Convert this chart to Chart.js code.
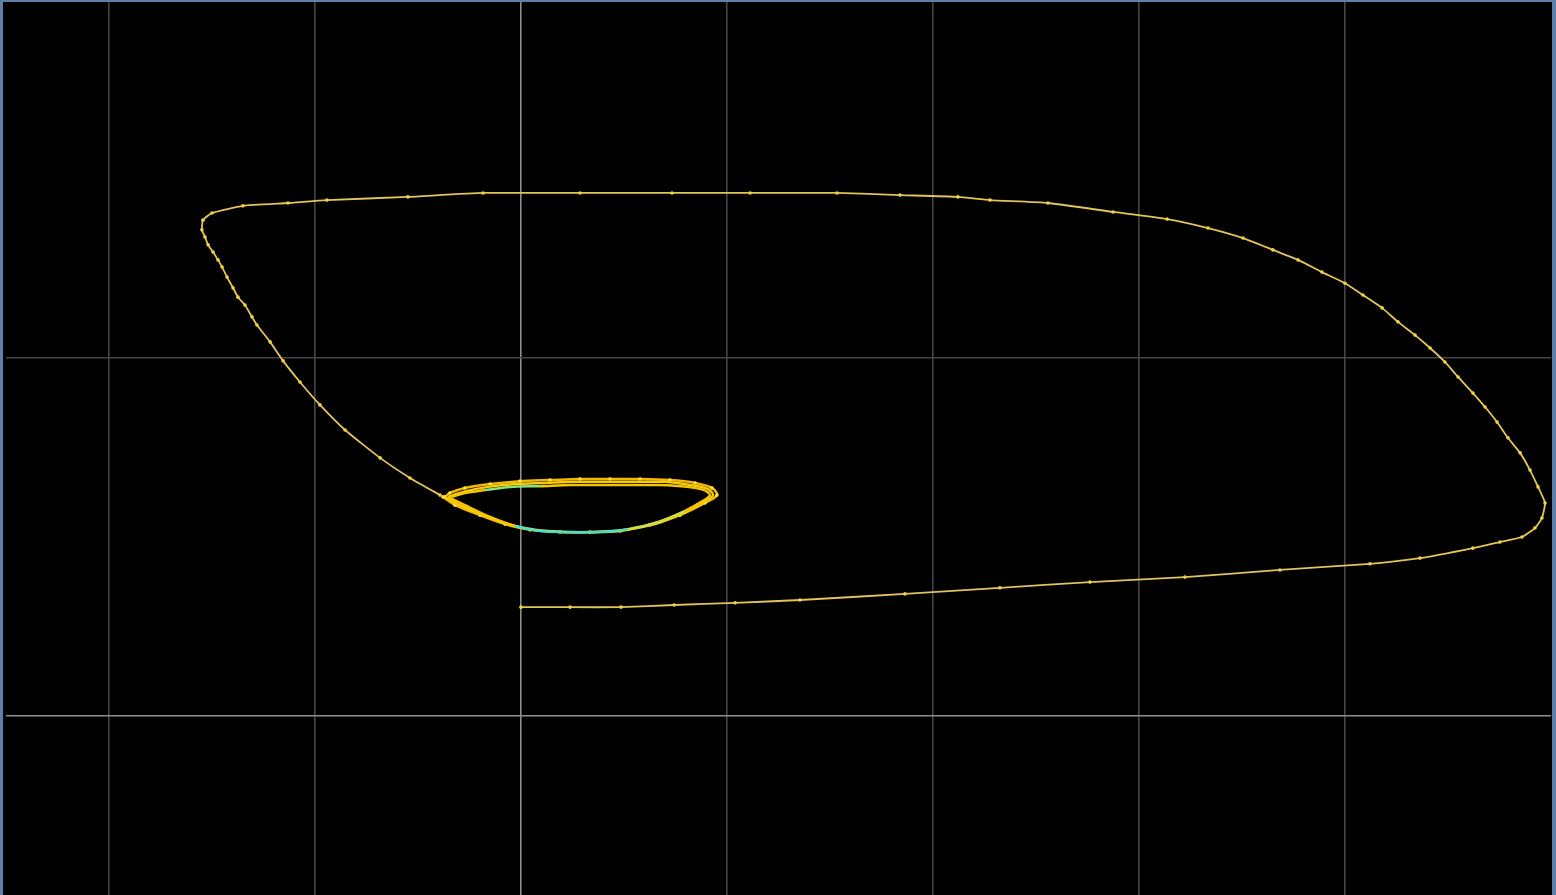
<!DOCTYPE html>
<html>
<head>
<meta charset="utf-8">
<script src="https://cdn.jsdelivr.net/npm/chart.js@4/dist/chart.umd.min.js"></script>
<style>
  html, body { margin: 0; padding: 0; background: #000; }
  #wrap { width: 1556px; height: 895px; }
</style>
</head>
<body>
<div id="wrap"><canvas id="phase" width="1556" height="895"></canvas></div>
<script>
// Phase-plane trajectory: transient orbit settling onto a small limit cycle.
const xTicks = [-2, -1, 0, 1, 2, 3, 4];
const yTicks = [0, 1];

// transient trajectory (x, y) samples
const trajX = [0, 0.238, 0.485, 0.743, 1.039, 1.354, 1.864, 2.325, 2.762, 3.223, 3.684, 4.121, 4.364, 4.621, 4.752, 4.859, 4.922, 4.956, 4.971, 4.937, 4.898, 4.850, 4.791, 4.738, 4.680, 4.621, 4.549, 4.485, 4.413, 4.340, 4.257, 4.180, 4.087, 4.000, 3.888, 3.772, 3.650, 3.505, 3.335, 3.136, 2.874, 2.558, 2.277, 2.121, 1.840, 1.534, 1.112, 0.733, 0.286, -0.184, -0.549, -0.942, -1.131, -1.350, -1.500, -1.544, -1.549, -1.534, -1.519, -1.495, -1.471, -1.451, -1.427, -1.398, -1.374, -1.340, -1.306, -1.282, -1.218, -1.155, -1.073, -0.976, -0.854, -0.684, -0.539, -0.393];
const trajY = [0.304, 0.304, 0.304, 0.310, 0.316, 0.324, 0.341, 0.358, 0.374, 0.388, 0.408, 0.425, 0.441, 0.469, 0.486, 0.500, 0.525, 0.553, 0.595, 0.640, 0.687, 0.735, 0.777, 0.821, 0.863, 0.902, 0.947, 0.989, 1.028, 1.064, 1.101, 1.140, 1.176, 1.209, 1.240, 1.274, 1.302, 1.335, 1.363, 1.388, 1.408, 1.433, 1.441, 1.450, 1.455, 1.461, 1.461, 1.461, 1.461, 1.461, 1.450, 1.441, 1.433, 1.425, 1.405, 1.385, 1.358, 1.338, 1.316, 1.296, 1.274, 1.254, 1.226, 1.196, 1.170, 1.148, 1.115, 1.092, 1.045, 0.992, 0.933, 0.869, 0.799, 0.721, 0.665, 0.617];

// successive turns around the limit cycle
const loop1X = [-0.379, -0.320, -0.199, -0.078, 0.044, 0.189, 0.335, 0.481, 0.626, 0.772, 0.893, 0.951, 0.927, 0.845, 0.723, 0.578, 0.432, 0.286, 0.141, -0.005, -0.150, -0.272, -0.345, -0.369];
const loop1Y = [0.612, 0.589, 0.561, 0.536, 0.520, 0.514, 0.514, 0.517, 0.534, 0.561, 0.595, 0.617, 0.637, 0.651, 0.659, 0.662, 0.662, 0.662, 0.659, 0.656, 0.648, 0.637, 0.623, 0.612];
const loop2X = [-0.369, -0.296, -0.175, -0.053, 0.068, 0.214, 0.359, 0.505, 0.650, 0.786, 0.888, 0.932, 0.908, 0.820, 0.699, 0.553, 0.408, 0.262, 0.117, -0.029, -0.160, -0.267, -0.330, -0.354];
const loop2Y = [0.612, 0.589, 0.559, 0.534, 0.520, 0.514, 0.514, 0.520, 0.536, 0.567, 0.598, 0.617, 0.634, 0.645, 0.654, 0.654, 0.654, 0.654, 0.651, 0.648, 0.640, 0.628, 0.617, 0.612];
const loop3X = [-0.354, -0.272, -0.150, -0.029, 0.092, 0.238, 0.383, 0.519, 0.665, 0.796, 0.883, 0.917, 0.888, 0.806, 0.675, 0.529, 0.383, 0.238, 0.092, -0.053, -0.175, -0.272, -0.320, -0.335];
const loop3Y = [0.612, 0.589, 0.556, 0.531, 0.517, 0.514, 0.514, 0.522, 0.542, 0.573, 0.601, 0.617, 0.631, 0.640, 0.645, 0.645, 0.645, 0.645, 0.642, 0.640, 0.631, 0.623, 0.615, 0.612];

const toPoints = (xs, ys) => xs.slice(0, Math.min(xs.length, ys.length)).map((x, i) => ({ x, y: ys[i] }));

const paintBackground = {
  id: 'paintBackground',
  beforeDraw(chart) {
    const ctx = chart.ctx;
    ctx.save();
    ctx.fillStyle = '#000000';
    ctx.fillRect(0, 0, chart.width, chart.height);
    ctx.restore();
  },
  afterDraw(chart) {
    const ctx = chart.ctx;
    ctx.save();
    ctx.fillStyle = '#5e7fa8';
    ctx.fillRect(0, 0, 3, chart.height);
    ctx.fillRect(0, 0, chart.width, 2);
    ctx.fillRect(chart.width - 4, 0, 4, chart.height);
    ctx.restore();
  }
};

const gridColor = (ctx) => (ctx.tick && ctx.tick.value === 0) ? '#8e8e8e' : '#454545';

// last turn fades from yellow into cyan along its lower arc
const lastTurnColor = (seg) => {
  const a = seg.p0.parsed, b = seg.p1.parsed;
  const mx = (a.x + b.x) / 2, my = (a.y + b.y) / 2;
  if (my < 0.56 && mx > 0.0 && mx < 0.58) return '#3fe3d4';
  if (my > 0.6 && mx > -0.22 && mx < 0.12) return '#8ee07a';
  if (my < 0.57 && mx >= 0.58 && mx < 0.75) return '#c8e04a';
  return '#f6c400';
};

new Chart(document.getElementById('phase'), {
  type: 'scatter',
  data: {
    datasets: [
      {
        data: toPoints(trajX, trajY),
        showLine: true,
        borderColor: '#e2c35c',
        borderWidth: 1.8,
        pointRadius: 1.8,
        pointBackgroundColor: '#f2d43a',
        pointBorderWidth: 0,
        tension: 0.15,
        order: 3
      },
      {
        data: toPoints(loop1X, loop1Y),
        showLine: true,
        borderColor: '#f4b800',
        borderWidth: 2.5,
        pointRadius: 1.8,
        pointBackgroundColor: '#ffe23a',
        pointBorderWidth: 0,
        tension: 0.3,
        order: 2
      },
      {
        data: toPoints(loop2X, loop2Y),
        showLine: true,
        borderColor: '#f7cc10',
        borderWidth: 2.5,
        pointRadius: 0,
        tension: 0.3,
        order: 1
      },
      {
        data: toPoints(loop3X, loop3Y),
        showLine: true,
        borderColor: '#f6c400',
        borderWidth: 2.5,
        pointRadius: 0,
        tension: 0.3,
        order: 0,
        segment: { borderColor: lastTurnColor }
      }
    ]
  },
  options: {
    responsive: false,
    animation: false,
    layout: { autoPadding: false, padding: { left: 6, right: 5, top: 0, bottom: 0 } },
    plugins: { legend: { display: false }, tooltip: { enabled: false } },
    scales: {
      x: {
        type: 'linear',
        min: -2.5,
        max: 5,
        afterBuildTicks: (scale) => { scale.ticks = xTicks.map(v => ({ value: v })); },
        ticks: { display: false },
        grid: { color: gridColor, lineWidth: 1.6, drawTicks: false },
        border: { display: false }
      },
      y: {
        type: 'linear',
        min: -0.5,
        max: 2,
        afterBuildTicks: (scale) => { scale.ticks = yTicks.map(v => ({ value: v })); },
        ticks: { display: false },
        grid: { color: gridColor, lineWidth: 1.6, drawTicks: false },
        border: { display: false }
      }
    }
  },
  plugins: [paintBackground]
});
</script>
</body>
</html>
